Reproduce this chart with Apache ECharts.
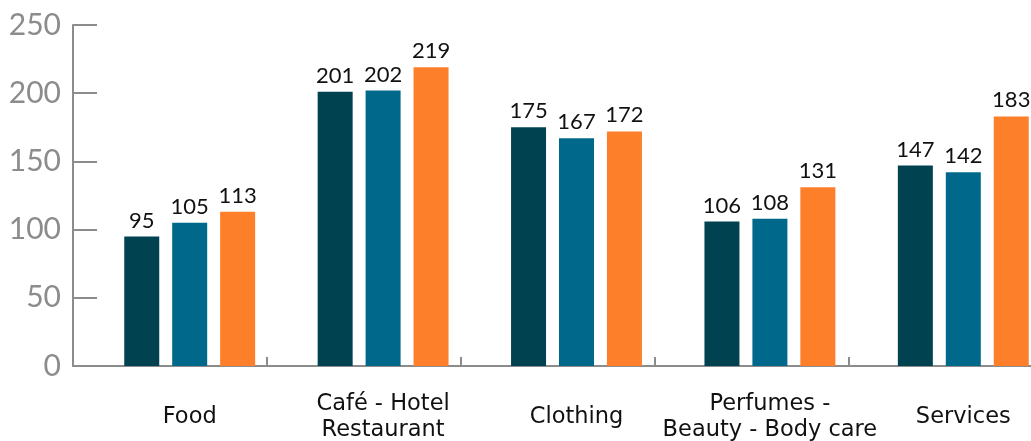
<!DOCTYPE html>
<html>
<head>
<meta charset="utf-8">
<script src="https://cdn.jsdelivr.net/npm/echarts@6/dist/echarts.min.js"></script>
<style>
  html, body { margin: 0; padding: 0; background: #fff; }
  #chart { width: 1031px; height: 441px; }
</style>
</head>
<body>
<div id="chart"></div>
<script>
// categories and values
const categories = ['Food', 'Café - Hotel\nRestaurant', 'Clothing', 'Perfumes -\nBeauty - Body care', 'Services'];
const series1 = [95, 201, 175, 106, 147];
const series2 = [105, 202, 167, 108, 142];
const series3 = [113, 219, 172, 131, 183];
const colors = ['#004250', '#00688b', '#fe7f29'];

const axisGray = '#8c8c8c';
const fontFamily = 'Lato, "Open Sans", sans-serif';

const bar = (data, color) => ({
  type: 'bar',
  xAxisIndex: 1,
  yAxisIndex: 1,
  data: data,
  barWidth: 35,
  barGap: '37%',
  itemStyle: { color: color },
  label: {
    show: true,
    position: 'top',
    distance: 5,
    color: '#111',
    fontSize: 22,
    fontFamily: fontFamily,
  },
});

const chart = echarts.init(document.getElementById('chart'));
chart.setOption({
  animation: false,
  // grid 0 carries the visible axes, grid 1 the bars (shifted right as in the picture)
  grid: [
    { left: 73, top: 25, bottom: 75, width: 970, containLabel: false, outerBoundsMode: 'none' },
    { left: 93, top: 25, bottom: 75, width: 967, containLabel: false, outerBoundsMode: 'none' },
  ],
  xAxis: [
    {
      type: 'category',
      gridIndex: 0,
      data: categories,
      axisLine: { lineStyle: { color: axisGray, width: 2 } },
      axisTick: { show: true, inside: true, length: 9, lineStyle: { color: axisGray, width: 2 } },
      axisLabel: { show: false },
    },
    {
      type: 'category',
      gridIndex: 1,
      data: categories,
      axisLine: { show: false },
      axisTick: { show: false },
      axisLabel: {
        color: '#111',
        fontSize: 22.5,
        fontFamily: '"DejaVu Sans", sans-serif',
        lineHeight: 26,
        verticalAlign: 'middle',
        margin: 51,
        interval: 0,
      },
    },
  ],
  yAxis: [
    {
      type: 'value',
      gridIndex: 0,
      min: 0,
      max: 250,
      interval: 50,
      splitLine: { show: false },
      axisLine: { show: true, lineStyle: { color: axisGray, width: 2 } },
      axisTick: { show: true, inside: true, length: 24, lineStyle: { color: axisGray, width: 2 } },
      axisLabel: { color: axisGray, fontSize: 30, fontFamily: fontFamily, margin: 12 },
    },
    {
      type: 'value',
      gridIndex: 1,
      min: 0,
      max: 250,
      show: false,
      splitLine: { show: false },
    },
  ],
  series: [bar(series1, colors[0]), bar(series2, colors[1]), bar(series3, colors[2])],
});
</script>
</body>
</html>
